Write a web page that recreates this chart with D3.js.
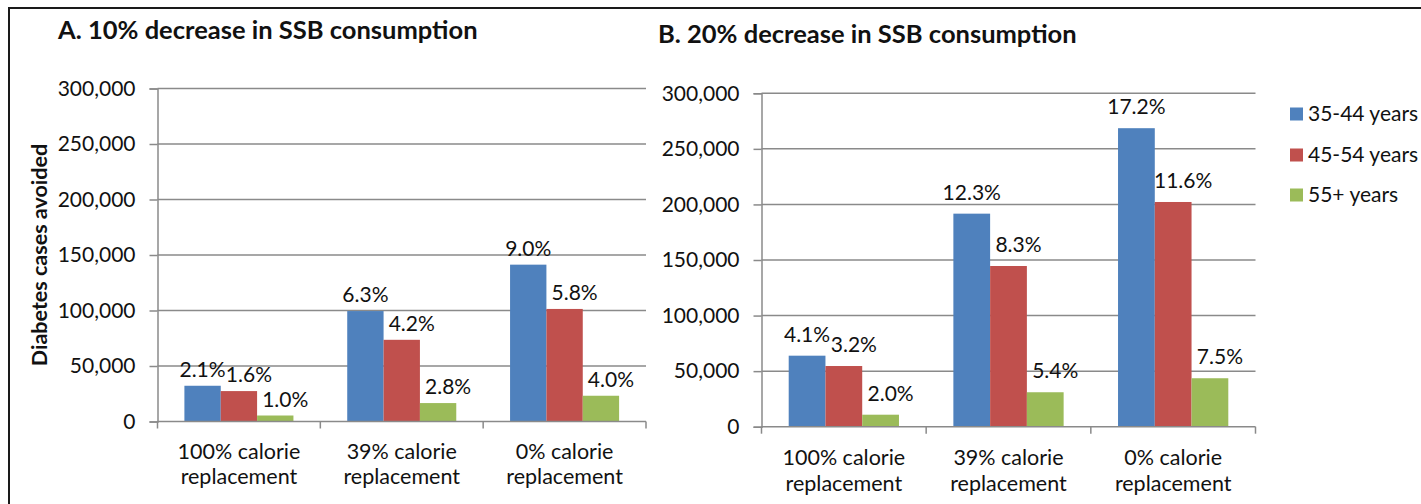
<!DOCTYPE html>
<html lang="en">
<head>
<meta charset="UTF-8">
<title>Diabetes cases avoided by SSB decrease</title>
<style>
  body { margin: 0; background: #fff; }
  svg text { font-family: Lato, "Open Sans", sans-serif; fill: #111; }
</style>
</head>
<body>
<div id="chart"></div>
<script src="https://cdnjs.cloudflare.com/ajax/libs/d3/7.8.5/d3.min.js"></script>
<script>
// categories / series
const categories = ["100% calorie replacement", "39% calorie replacement", "0% calorie replacement"];
const ageGroups = ["35-44 years", "45-54 years", "55+ years"];
const yTicks = [0, 50000, 100000, 150000, 200000, 250000, 300000];

// A. 10% decrease
const casesA_3544 = [32200, 99500, 141300];
const casesA_4554 = [27400, 73600, 101400];
const casesA_55 = [5400, 16600, 23200];
const pctA_3544 = ["2.1%", "6.3%", "9.0%"];
const pctA_4554 = ["1.6%", "4.2%", "5.8%"];
const pctA_55 = ["1.0%", "2.8%", "4.0%"];

// B. 20% decrease
const casesB_3544 = [63900, 191700, 268600];
const casesB_4554 = [54600, 144600, 202200];
const casesB_55 = [10800, 31000, 43600];
const pctB_3544 = ["4.1%", "12.3%", "17.2%"];
const pctB_4554 = ["3.2%", "8.3%", "11.6%"];
const pctB_55 = ["2.0%", "5.4%", "7.5%"];

const colors = ["#4F81BD", "#C0504D", "#9BBB59"];
const gridColor = "#8a8a8a";
const labelShift = [0, 10, 10]; // data labels sit a bit right for red/green bars
const fs = 21;

const W = 1421, H = 504;
const svg = d3.select("#chart").append("svg")
    .attr("width", W).attr("height", H);

// outer frame (cut off at right and bottom like the source image)
svg.append("rect")
    .attr("x", 9).attr("y", 8)
    .attr("width", W + 20).attr("height", H + 20)
    .attr("fill", "none").attr("stroke", "#1a1a1a").attr("stroke-width", 2);

function drawPanel(cfg) {
    const x = d3.scaleBand().domain(categories).range([cfg.left, cfg.right]);
    const xs = d3.scaleBand().domain(ageGroups).range([0, x.bandwidth()]).paddingOuter(0.74);
    const y = d3.scaleLinear().domain([0, 300000]).range([cfg.bottom, cfg.top]);

    const g = svg.append("g");

    g.append("text")
        .attr("x", cfg.titleX).attr("y", cfg.titleY)
        .attr("font-size", 25.5).attr("font-weight", "bold")
        .text(cfg.title);

    // gridlines
    g.append("g").selectAll("line").data(yTicks.slice(1)).join("line")
        .attr("x1", cfg.left).attr("x2", cfg.right)
        .attr("y1", d => y(d)).attr("y2", d => y(d))
        .attr("stroke", gridColor).attr("stroke-width", 1.5);

    // y axis
    const yAxis = g.append("g")
        .attr("transform", `translate(${cfg.left},0)`)
        .call(d3.axisLeft(y).tickValues(yTicks).tickFormat(d3.format(",")).tickSize(8).tickPadding(14));
    yAxis.select(".domain").attr("stroke", gridColor).attr("stroke-width", 1.5);
    yAxis.selectAll(".tick line").attr("stroke", gridColor).attr("stroke-width", 1.5);
    yAxis.selectAll(".tick text").attr("font-size", fs).attr("font-family", null).attr("fill", "#111");

    // bars
    const series = [cfg.s1, cfg.s2, cfg.s3];
    series.forEach((vals, si) => {
        g.append("g").selectAll("rect").data(vals).join("rect")
            .attr("x", (d, i) => x(categories[i]) + xs(ageGroups[si]))
            .attr("y", d => y(d))
            .attr("width", xs.bandwidth())
            .attr("height", d => cfg.bottom - y(d))
            .attr("fill", colors[si]);
        g.append("g").selectAll("text").data(vals).join("text")
            .attr("x", (d, i) => x(categories[i]) + xs(ageGroups[si]) + xs.bandwidth() / 2 + labelShift[si])
            .attr("y", d => y(d) - cfg.labelGap)
            .attr("text-anchor", "middle")
            .attr("font-size", fs)
            .text((d, i) => cfg.pct[si][i]);
    });

    // x axis with ticks on category boundaries
    const xAxis = g.append("g").attr("transform", `translate(0,${cfg.bottom})`);
    xAxis.append("line")
        .attr("x1", cfg.left).attr("x2", cfg.right)
        .attr("stroke", gridColor).attr("stroke-width", 1.5);
    const edges = categories.map(c => x(c)).concat([cfg.right]);
    xAxis.selectAll(".edge").data(edges).join("line")
        .attr("class", "edge")
        .attr("x1", d => d).attr("x2", d => d)
        .attr("y1", 0).attr("y2", 7)
        .attr("stroke", gridColor).attr("stroke-width", 1.5);
    const lbl = xAxis.selectAll(".cat").data(categories).join("text")
        .attr("class", "cat")
        .attr("text-anchor", "middle")
        .attr("font-size", 21.5);
    lbl.append("tspan")
        .attr("x", d => x(d) + x.bandwidth() / 2).attr("y", cfg.catY1 - cfg.bottom)
        .text(d => d.slice(0, d.lastIndexOf(" ")));
    lbl.append("tspan")
        .attr("x", d => x(d) + x.bandwidth() / 2).attr("y", cfg.catY2 - cfg.bottom)
        .text(d => d.slice(d.lastIndexOf(" ") + 1));

    return y;
}

const yA = drawPanel({
    title: "A. 10% decrease in SSB consumption", titleX: 58, titleY: 39,
    left: 157.5, right: 646, top: 88.5, bottom: 421.5,
    s1: casesA_3544, s2: casesA_4554, s3: casesA_55,
    pct: [pctA_3544, pctA_4554, pctA_55], labelGap: 9,
    catY1: 459, catY2: 484
});

drawPanel({
    title: "B. 20% decrease in SSB consumption", titleX: 658, titleY: 42.5,
    left: 761.5, right: 1255.5, top: 93.3, bottom: 426.7,
    s1: casesB_3544, s2: casesB_4554, s3: casesB_55,
    pct: [pctB_3544, pctB_4554, pctB_55], labelGap: 14,
    catY1: 465, catY2: 491
});

// y axis title (panel A only)
svg.append("text")
    .attr("transform", `translate(47,${(yA(0) + yA(300000)) / 2}) rotate(-90)`)
    .attr("text-anchor", "middle")
    .attr("font-size", 21.5).attr("font-weight", "bold")
    .text("Diabetes cases avoided");

// legend
const legend = svg.append("g").attr("transform", "translate(1290,0)");
const legendY = [114, 155, 195];
ageGroups.forEach((name, i) => {
    legend.append("rect")
        .attr("x", 0).attr("y", legendY[i] - 6.5)
        .attr("width", 13).attr("height", 13)
        .attr("fill", colors[i]);
    legend.append("text")
        .attr("x", 18).attr("y", legendY[i] + 7)
        .attr("font-size", fs)
        .text(name);
});
</script>
</body>
</html>
